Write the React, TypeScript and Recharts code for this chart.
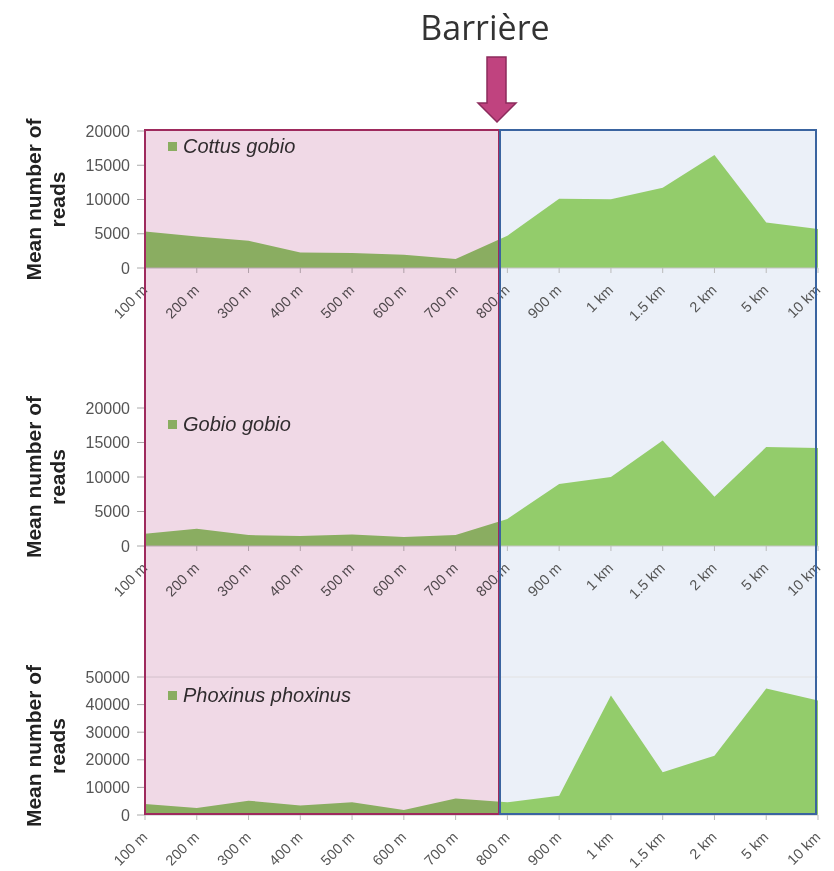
import { AreaChart, Area, XAxis, YAxis, Legend, ReferenceLine } from 'recharts';

const distances = ['100 m', '200 m', '300 m', '400 m', '500 m', '600 m', '700 m', '800 m', '900 m', '1 km', '1.5 km', '2 km', '5 km', '10 km'];
const cottusReads = [5340, 4600, 3980, 2280, 2190, 1940, 1310, 4700, 10100, 10050, 11700, 16500, 6650, 5700];
const gobioReads = [1790, 2510, 1590, 1450, 1650, 1300, 1590, 3930, 9000, 10000, 15300, 7150, 14350, 14200];
const phoxinusReads = [4000, 2550, 5200, 3400, 4600, 1800, 6000, 4600, 7000, 43300, 15500, 21500, 45800, 41500];
const ticks20k = [0, 5000, 10000, 15000, 20000];
const ticks50k = [0, 10000, 20000, 30000, 40000, 50000];

const GREEN = '#93cc6b';
const FONT = '"Liberation Sans", Arial, sans-serif';

const XTick = ({ x, y, payload }: any) => (
  <g transform={`translate(${x},${y})`}>
    <text x={0} y={0} dx={-9} dy={13.5} textAnchor="end" transform="rotate(-45)" fill="#555" fontSize={14.5} fontFamily={FONT}>
      {payload.value}
    </text>
  </g>
);

const AxisTitle = ({ viewBox }: any) => {
  const cy = viewBox.y + viewBox.height / 2;
  return (
    <g fontFamily={FONT} fontWeight="bold" fontSize={21} fill="#222">
      <text x={0} y={0} textAnchor="middle" transform={`translate(41,${cy}) rotate(-90)`}>Mean number of</text>
      <text x={0} y={0} textAnchor="middle" transform={`translate(65,${cy}) rotate(-90)`}>reads</text>
    </g>
  );
};

// plot area of each chart starts 30px below the top of its svg
function SpeciesChart({ name, values, ticks, max, top, height, xHeight, legendTop }: any) {
  const data = distances.map((d, i) => ({ distance: d, reads: values[i] }));
  return (
    <div style={{ position: 'absolute', left: 0, top, zIndex: 1 }}>
      <AreaChart width={834} height={height} data={data} margin={{ top: 30, right: 16, left: 0, bottom: 0 }}>
        {max === 50000 && <ReferenceLine y={50000} stroke="#e2e2e2" />}
        <XAxis dataKey="distance" interval={0} height={xHeight} tick={<XTick />} tickSize={5}
          axisLine={{ stroke: '#c4c4c4' }} tickLine={{ stroke: '#bbb' }} />
        <YAxis domain={[0, max]} ticks={ticks} width={145} axisLine={false} tickSize={8} tickMargin={7}
          tickLine={{ stroke: '#aaa' }} tick={{ fill: '#555', fontSize: 16, fontFamily: FONT }}
          label={{ content: <AxisTitle /> }} />
        <Legend verticalAlign="middle" align="center" layout="horizontal"
          wrapperStyle={{ left: 168, top: legendTop, width: 'auto' }}
          content={() => (
            <div style={{ display: 'flex', alignItems: 'center', fontFamily: FONT, fontStyle: 'italic', fontSize: 20, color: '#333' }}>
              <span style={{ width: 9, height: 9, background: GREEN, marginRight: 6, display: 'inline-block' }} />
              {name}
            </div>
          )} />
        <Area type="linear" dataKey="reads" name={name} stroke="none" fill={GREEN} fillOpacity={1} isAnimationActive={false} />
      </AreaChart>
    </div>
  );
}

export default function App() {
  return (
    <div style={{ position: 'absolute', left: 0, top: 0, width: 834, height: 871, overflow: 'hidden', background: '#fff' }}>
      <div style={{ position: 'absolute', left: 500, top: 130, width: 316, height: 685, background: '#ebf0f8', zIndex: 0 }} />
      <SpeciesChart name="Cottus gobio" values={cottusReads} ticks={ticks20k} max={20000} top={101} height={227} xHeight={60} legendTop={34} />
      <SpeciesChart name="Gobio gobio" values={gobioReads} ticks={ticks20k} max={20000} top={378} height={228} xHeight={60} legendTop={35} />
      <SpeciesChart name="Phoxinus phoxinus" values={phoxinusReads} ticks={ticks50k} max={50000} top={647} height={224} xHeight={56} legendTop={37} />
      <div style={{ position: 'absolute', left: 145, top: 130, width: 355, height: 685, background: '#f0d9e6', mixBlendMode: 'multiply', zIndex: 2 }} />
      <div style={{ position: 'absolute', left: 144, top: 129, width: 356, height: 686, boxSizing: 'border-box', border: '2px solid #9e2a5d', zIndex: 3 }} />
      <div style={{ position: 'absolute', left: 499, top: 129, width: 318, height: 686, boxSizing: 'border-box', border: '2px solid #3a64a0', zIndex: 3 }} />
      <svg width={834} height={130} style={{ position: 'absolute', left: 0, top: 0, zIndex: 4 }}>
        <text x={485} y={40} textAnchor="middle" fontFamily='"Open Sans", sans-serif' fontSize={34} fill="#333">Barrière</text>
        <polygon points="487,57 506,57 506,103 516,103 497,122 478,103 487,103" fill="#c0437f" stroke="#8c2b5c" strokeWidth={1.5} />
      </svg>
    </div>
  );
}
